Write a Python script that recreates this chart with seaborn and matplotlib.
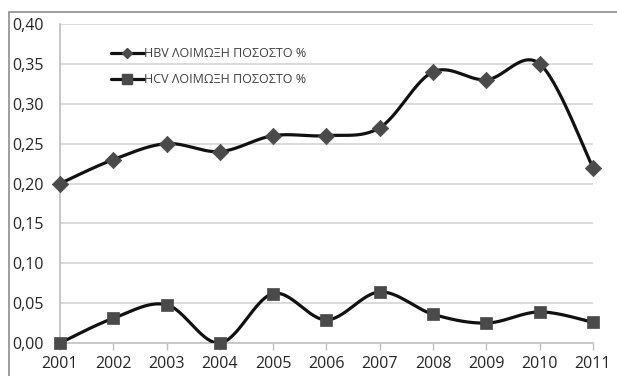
import numpy as np
import pandas as pd
import seaborn as sns
import matplotlib
matplotlib.use("Agg")
import matplotlib.pyplot as plt
from matplotlib.lines import Line2D
from matplotlib.patches import Rectangle

# Yearly infection rates (%)
years = [2001, 2002, 2003, 2004, 2005, 2006, 2007, 2008, 2009, 2010, 2011]
hbv_rate = [0.20, 0.23, 0.25, 0.24, 0.26, 0.26, 0.27, 0.34, 0.33, 0.35, 0.22]
hcv_rate = [0.000, 0.031, 0.048, 0.000, 0.062, 0.029, 0.064, 0.036, 0.025, 0.039, 0.026]
series_labels = ["HBV ΛΟΙΜΩΞΗ ΠΟΣΟΣΤΟ %", "HCV ΛΟΙΜΩΞΗ ΠΟΣΟΣΤΟ %"]
y_ticks = [0.00, 0.05, 0.10, 0.15, 0.20, 0.25, 0.30, 0.35, 0.40]


def smooth_curve(x, y, steps=30):
    """Cardinal (Catmull-Rom) Bezier smoothing through every point."""
    x = np.asarray(x, float)
    y = np.asarray(y, float)
    p = np.column_stack([x, y])
    pts = np.vstack([p[0], p, p[-1]])
    out = []
    t = np.linspace(0, 1, steps)[:, None]
    for i in range(1, len(pts) - 2):
        p0, p1, p2, p3 = pts[i - 1], pts[i], pts[i + 1], pts[i + 2]
        c1 = p1 + (p2 - p0) / 6.0
        c2 = p2 - (p3 - p1) / 6.0
        seg = ((1 - t) ** 3) * p1 + 3 * ((1 - t) ** 2) * t * c1 \
            + 3 * (1 - t) * t ** 2 * c2 + t ** 3 * p2
        out.append(seg if i == 1 else seg[1:])
    seg = np.vstack(out)
    return seg[:, 0], seg[:, 1]


sns.set_theme(style="white")
plt.rcParams["font.family"] = ["Open Sans", "DejaVu Sans"]

W, H = 617, 376
fig = plt.figure(figsize=(W / 100, H / 100), dpi=100)
ax = fig.add_axes([60 / W, 1 - 343 / H, (593 - 60) / W, (343 - 24) / H])

# outer chart frame
fig.patches.append(Rectangle((9 / W, -0.05), 1.1, 1 - 12 / H + 0.05,
                             transform=fig.transFigure, fill=False,
                             edgecolor="#8c8c8c", linewidth=1.2, zorder=0))

marker_color = "#4a4a4a"
line_color = "#111111"
for vals, marker, msize in [(hbv_rate, "D", 70), (hcv_rate, "s", 75)]:
    sx, sy = smooth_curve(years, vals)
    sns.lineplot(x=sx, y=sy, sort=False, estimator=None, ax=ax,
                 color=line_color, linewidth=2.3, zorder=3)
    sns.scatterplot(x=years, y=vals, ax=ax, marker=marker, s=msize,
                    color=marker_color, edgecolor=marker_color,
                    linewidth=0.5, zorder=4, clip_on=False)

ax.set_xlim(2001, 2011)
ax.set_ylim(0, 0.40)
ax.set_yticks(y_ticks)
ax.set_yticklabels([f"{v:.2f}".replace(".", ",") for v in y_ticks])
ax.set_xticks(years)
ax.set_xticklabels([str(y) for y in years])

for v in y_ticks[1:]:
    ax.axhline(v, color="#d4d4d4", linewidth=1.2, zorder=1)

for side in ["top", "right"]:
    ax.spines[side].set_visible(False)
for side in ["left", "bottom"]:
    ax.spines[side].set_color("#bfbfbf")
    ax.spines[side].set_linewidth(1.2)

ax.tick_params(axis="x", length=5, width=1.0, color="#bfbfbf",
               labelsize=11.5, labelcolor="#262626", pad=4, bottom=True)
ax.tick_params(axis="y", length=0, labelsize=11.5, labelcolor="#262626", pad=12)
for lbl in ax.get_xticklabels() + ax.get_yticklabels():
    lbl.set_fontweight("medium")
ax.set_xlabel("")
ax.set_ylabel("")

handles = [
    Line2D([], [], color=line_color, linewidth=2.3, marker="D",
           markersize=5, markerfacecolor=marker_color, markeredgecolor=marker_color),
    Line2D([], [], color=line_color, linewidth=2.3, marker="s",
           markersize=7, markerfacecolor=marker_color, markeredgecolor=marker_color),
]
ax.legend(handles, series_labels, loc="upper left",
          bbox_to_anchor=((106 - 60) / (593 - 60), 1 - (42 - 24) / (343 - 24)),
          frameon=False, fontsize=9, handlelength=2.6, handletextpad=0.05,
          labelspacing=1.05, labelcolor="#404040", borderaxespad=0)

fig.savefig("out.png", dpi=100, facecolor="white")
